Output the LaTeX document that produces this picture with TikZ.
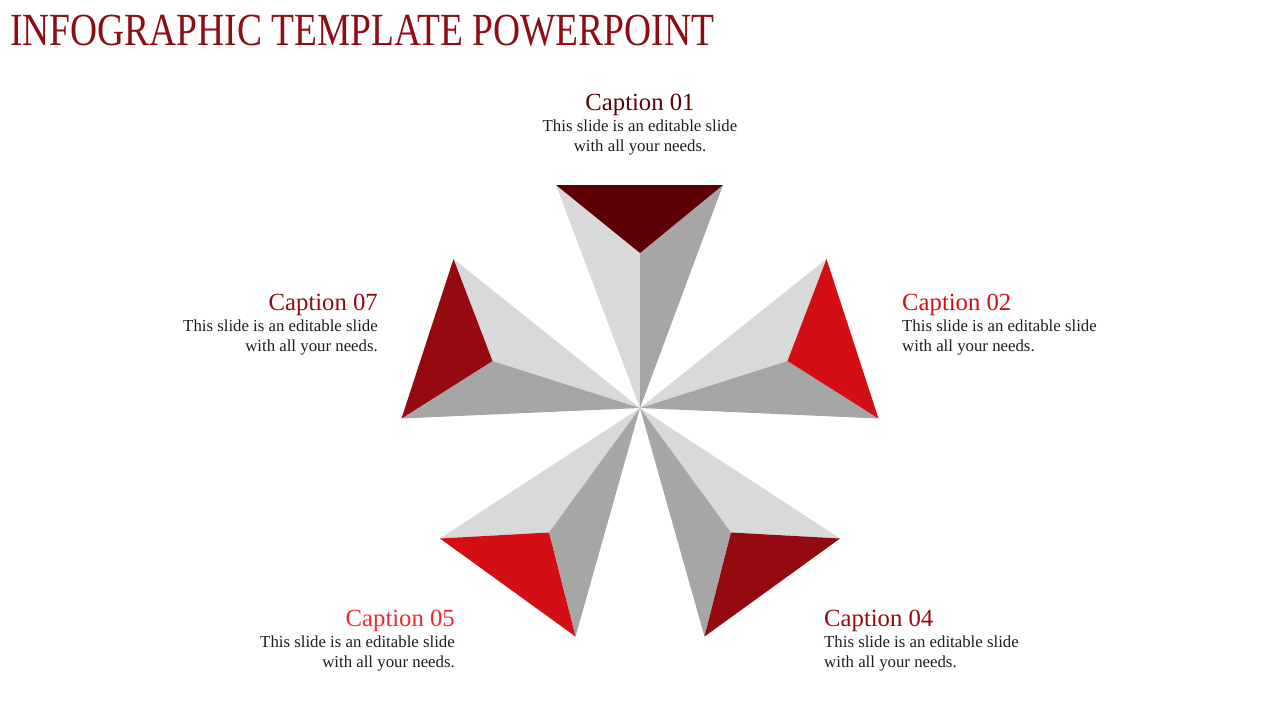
\documentclass[tikz,border=0pt]{standalone}
\usepackage{fontspec}
\setmainfont{Liberation Serif}
\newfontfamily\titlefont[FakeStretch=0.815]{Liberation Serif}
\definecolor{tdark}{HTML}{5C0006}
\definecolor{tred}{HTML}{D30F15}
\definecolor{tmaroon}{HTML}{940A10}
\definecolor{capfive}{HTML}{EE2A2F}
\definecolor{ttitle}{HTML}{8E0D14}
\definecolor{glight}{HTML}{D9D9D9}
\definecolor{gdark}{HTML}{A6A6A6}
\definecolor{bodyc}{HTML}{1E1E1E}
\tikzset{
  capt/.style={inner sep=0pt, font=\fontsize{24.7}{28}\selectfont},
  bodyline/.style={inner sep=0pt, text=bodyc, font=\fontsize{16.8}{20}\selectfont},
  facel/.style={fill=glight},
  faced/.style={fill=gdark},
}
\begin{document}
\begin{tikzpicture}[x=1pt,y=-1pt]
\useasboundingbox (0,0) rectangle (1280,720);
\fill[white] (0,0) rectangle (1280,720);
% title
\node[inner sep=0pt, anchor=base west, text=ttitle, font=\titlefont\fontsize{46}{50}\selectfont] (title) at (10,45) {INFOGRAPHIC TEMPLATE POWERPOINT};
\coordinate (c) at (640,408);
% top (01)
\coordinate (a1) at (556,185); \coordinate (b1) at (723,185); \coordinate (i1) at (640,253);
\fill[facel] (a1) -- (i1) -- (c) -- cycle;
\fill[faced] (b1) -- (i1) -- (c) -- cycle;
\fill[tdark] (a1) -- (b1) -- (i1) -- cycle;
% upper right (02)
\coordinate (a2) at (826.5,259); \coordinate (b2) at (878.5,418.5); \coordinate (i2) at (787.5,361);
\fill[facel] (a2) -- (i2) -- (c) -- cycle;
\fill[faced] (b2) -- (i2) -- (c) -- cycle;
\fill[tred] (a2) -- (b2) -- (i2) -- cycle;
% lower right (04)
\coordinate (a4) at (840,538.5); \coordinate (b4) at (704.5,636.5); \coordinate (i4) at (731,532.5);
\fill[facel] (a4) -- (i4) -- (c) -- cycle;
\fill[faced] (b4) -- (i4) -- (c) -- cycle;
\fill[tmaroon] (a4) -- (b4) -- (i4) -- cycle;
% lower left (05)
\coordinate (a5) at (440,538.5); \coordinate (b5) at (575.5,636.5); \coordinate (i5) at (549,532.5);
\fill[facel] (a5) -- (i5) -- (c) -- cycle;
\fill[faced] (b5) -- (i5) -- (c) -- cycle;
\fill[tred] (a5) -- (b5) -- (i5) -- cycle;
% upper left (07)
\coordinate (a7) at (453.5,259); \coordinate (b7) at (401.5,418.5); \coordinate (i7) at (492.5,361);
\fill[facel] (a7) -- (i7) -- (c) -- cycle;
\fill[faced] (b7) -- (i7) -- (c) -- cycle;
\fill[tmaroon] (a7) -- (b7) -- (i7) -- cycle;
% captions
\node[capt, anchor=base, text=tdark] (cap1) at (640,110) {Caption 01};
\node[bodyline, anchor=base] (b1l1) at (640,131) {This slide is an editable slide};
\node[bodyline, anchor=base] (b1l2) at (640,151) {with all your needs.};
\node[capt, anchor=base west, text=tred] (cap2) at (902,310) {Caption 02};
\node[bodyline, anchor=base west] (b2l1) at (902,331) {This slide is an editable slide};
\node[bodyline, anchor=base west] (b2l2) at (902,351) {with all your needs.};
\node[capt, anchor=base west, text=tmaroon] (cap4) at (824,626) {Caption 04};
\node[bodyline, anchor=base west] (b4l1) at (824,647) {This slide is an editable slide};
\node[bodyline, anchor=base west] (b4l2) at (824,667) {with all your needs.};
\node[capt, anchor=base east, text=capfive] (cap5) at (455,626) {Caption 05};
\node[bodyline, anchor=base east] (b5l1) at (455,647) {This slide is an editable slide};
\node[bodyline, anchor=base east] (b5l2) at (455,667) {with all your needs.};
\node[capt, anchor=base east, text=tmaroon] (cap7) at (378,310) {Caption 07};
\node[bodyline, anchor=base east] (b7l1) at (378,331) {This slide is an editable slide};
\node[bodyline, anchor=base east] (b7l2) at (378,351) {with all your needs.};
\end{tikzpicture}
\end{document}
